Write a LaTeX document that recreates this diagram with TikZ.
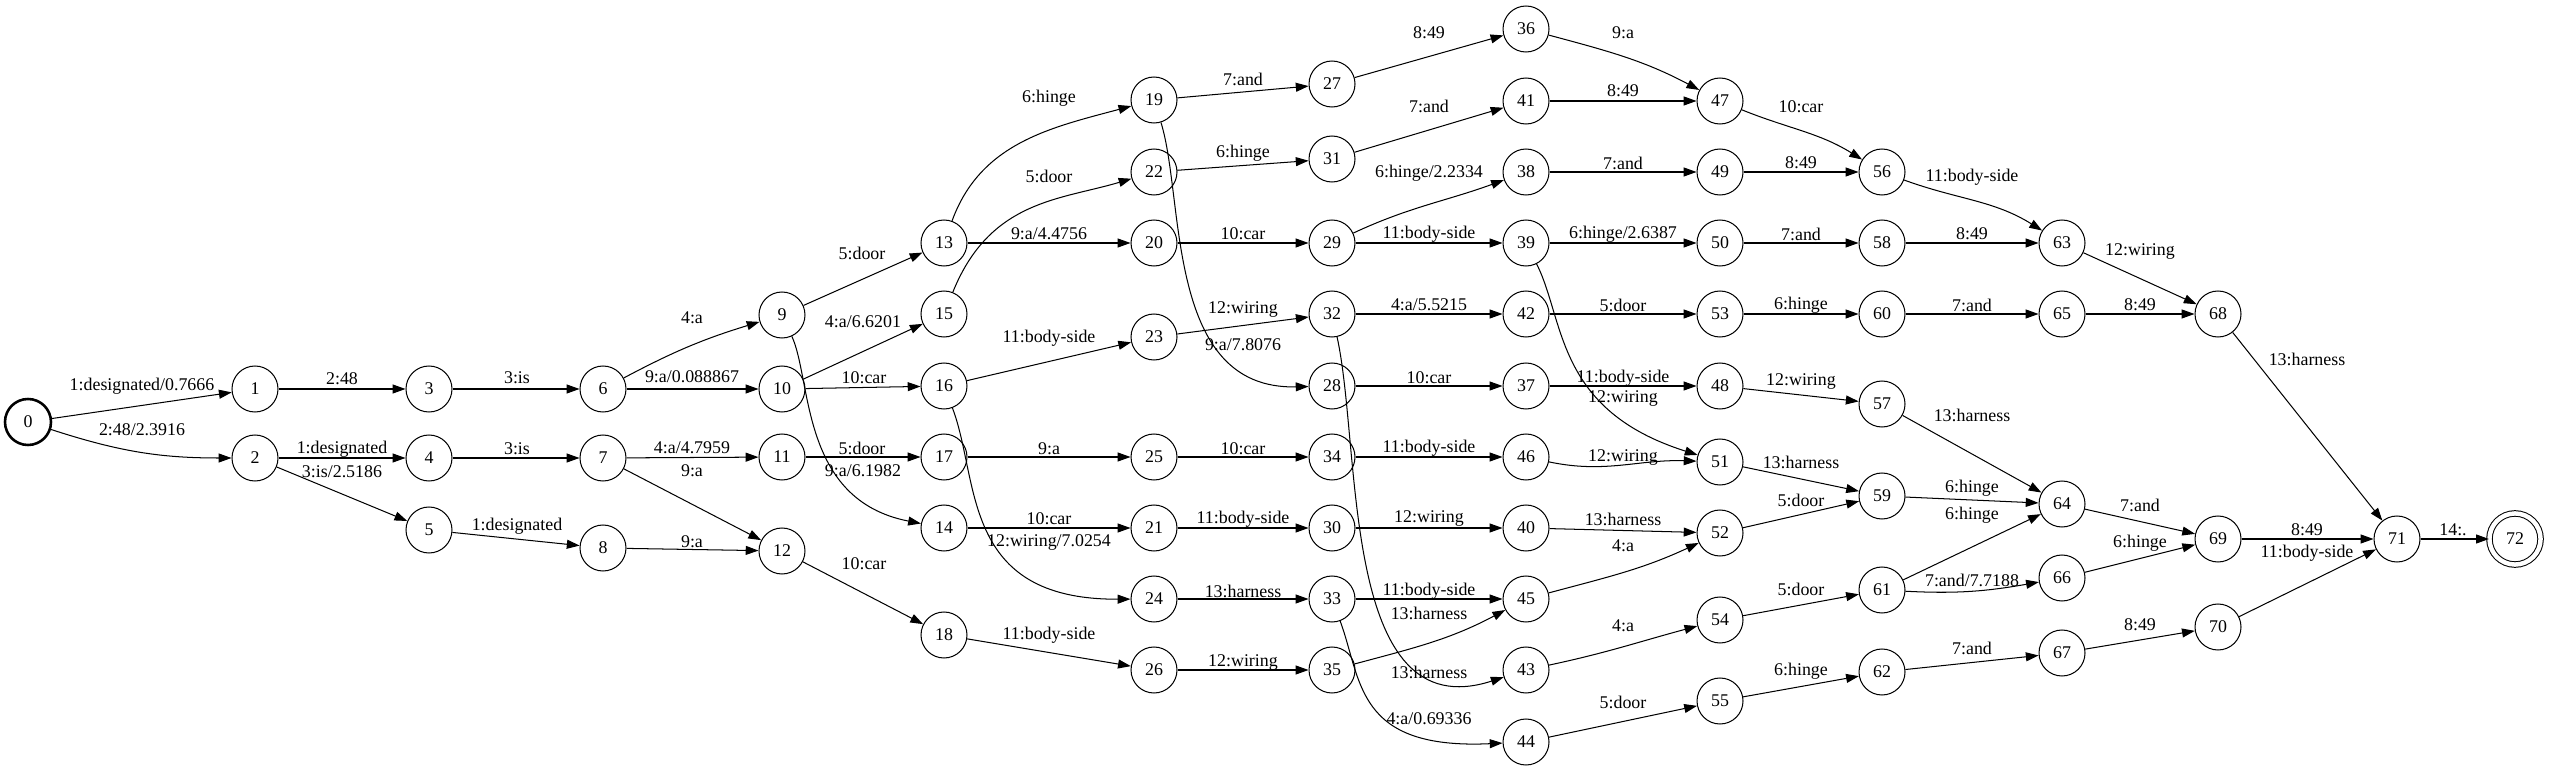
\documentclass[tikz,border=0pt]{standalone}
\usepackage{fontspec}
\setmainfont{Liberation Serif}
\usetikzlibrary{arrows.meta}
\newcommand{\fstfont}{\fontsize{14}{16}\selectfont}
\tikzset{
  state/.style={circle, draw, minimum size=36pt, inner sep=0pt, font=\fstfont},
  final/.style={state, minimum size=40pt, double, double distance=3.5pt},
  lbl/.style={font=\fstfont, inner sep=0pt}
}
\begin{document}
\begin{tikzpicture}[x=0.7826pt,y=-0.7826pt,>={Triangle[length=10pt,width=7pt]},->,line width=0.8pt]
\useasboundingbox (0,0) rectangle (2550,771);
% states
\node[state, line width=2pt] (s0) at (28,422) {0};
\node[state] (s1) at (255,389) {1};
\node[state] (s2) at (255,458) {2};
\node[state] (s3) at (429,389) {3};
\node[state] (s4) at (429,458) {4};
\node[state] (s5) at (429,530) {5};
\node[state] (s6) at (603,389) {6};
\node[state] (s7) at (603,458) {7};
\node[state] (s8) at (603,548) {8};
\node[state] (s9) at (782,315) {9};
\node[state] (s10) at (782,389) {10};
\node[state] (s11) at (782,457) {11};
\node[state] (s12) at (782,551) {12};
\node[state] (s13) at (944,243) {13};
\node[state] (s15) at (944,314) {15};
\node[state] (s16) at (944,386) {16};
\node[state] (s17) at (944,457) {17};
\node[state] (s14) at (944,528) {14};
\node[state] (s18) at (944,635) {18};
\node[state] (s19) at (1154,100) {19};
\node[state] (s22) at (1154,172) {22};
\node[state] (s20) at (1154,243) {20};
\node[state] (s23) at (1154,337) {23};
\node[state] (s25) at (1154,457) {25};
\node[state] (s21) at (1154,528) {21};
\node[state] (s24) at (1154,599) {24};
\node[state] (s26) at (1154,670) {26};
\node[state] (s27) at (1332,84) {27};
\node[state] (s31) at (1332,159) {31};
\node[state] (s29) at (1332,243) {29};
\node[state] (s32) at (1332,314) {32};
\node[state] (s28) at (1332,386) {28};
\node[state] (s34) at (1332,457) {34};
\node[state] (s30) at (1332,528) {30};
\node[state] (s33) at (1332,599) {33};
\node[state] (s35) at (1332,670) {35};
\node[state] (s36) at (1526,29) {36};
\node[state] (s41) at (1526,101) {41};
\node[state] (s38) at (1526,172) {38};
\node[state] (s39) at (1526,243) {39};
\node[state] (s42) at (1526,314) {42};
\node[state] (s37) at (1526,386) {37};
\node[state] (s46) at (1526,457) {46};
\node[state] (s40) at (1526,528) {40};
\node[state] (s45) at (1526,599) {45};
\node[state] (s43) at (1526,670) {43};
\node[state] (s44) at (1526,742) {44};
\node[state] (s47) at (1720,101) {47};
\node[state] (s49) at (1720,172) {49};
\node[state] (s50) at (1720,243) {50};
\node[state] (s53) at (1720,314) {53};
\node[state] (s48) at (1720,386) {48};
\node[state] (s51) at (1720,462) {51};
\node[state] (s52) at (1720,533) {52};
\node[state] (s54) at (1720,620) {54};
\node[state] (s55) at (1720,701) {55};
\node[state] (s56) at (1882,172) {56};
\node[state] (s58) at (1882,243) {58};
\node[state] (s60) at (1882,314) {60};
\node[state] (s57) at (1882,404) {57};
\node[state] (s59) at (1882,496) {59};
\node[state] (s61) at (1882,590) {61};
\node[state] (s62) at (1882,672) {62};
\node[state] (s63) at (2062,243) {63};
\node[state] (s65) at (2062,314) {65};
\node[state] (s64) at (2062,504) {64};
\node[state] (s66) at (2062,578) {66};
\node[state] (s67) at (2062,653) {67};
\node[state] (s68) at (2218,314) {68};
\node[state] (s69) at (2218,539) {69};
\node[state] (s70) at (2218,627) {70};
\node[state] (s71) at (2397,539) {71};
\node[final] (s72) at (2515,539) {72};
% arcs and their labels
\draw (s0) -- (s1); \node[lbl] (l0_1) at (142,386) {1:designated/0.7666};
\draw (s0) to[out=-18,in=180] (s2); \node[lbl] (l0_2) at (142,430) {2:48/2.3916};
\draw (s1) -- (s3); \node[lbl] (l1_3) at (342,379) {2:48};
\draw (s2) -- (s4); \node[lbl] (l2_4) at (342,449) {1:designated};
\draw (s2) -- (s5); \node[lbl] (l2_5) at (342,472) {3:is/2.5186};
\draw (s3) -- (s6); \node[lbl] (l3_6) at (517,378) {3:is};
\draw (s4) -- (s7); \node[lbl] (l4_7) at (517,449) {3:is};
\draw (s5) -- (s8); \node[lbl] (l5_8) at (517,526) {1:designated};
\draw (s6) to[out=28,in=197] (s9); \node[lbl] (l6_9) at (692,318) {4:a};
\draw (s6) -- (s10); \node[lbl] (l6_10) at (692,377) {9:a/0.088867};
\draw (s7) -- (s11); \node[lbl] (l7_11) at (692,448) {4:a/4.7959};
\draw (s7) -- (s12); \node[lbl] (l7_12) at (692,471) {9:a};
\draw (s8) -- (s12); \node[lbl] (l8_12) at (692,542) {9:a};
\draw (s9) -- (s13); \node[lbl] (l9_13) at (862,253) {5:door};
\draw (s9) .. controls (812,380) and (800,500) .. (s14); \node[lbl] (l9_14) at (863,471) {9:a/6.1982};
\draw (s10) -- (s15); \node[lbl] (l10_15) at (863,322) {4:a/6.6201};
\draw (s10) -- (s16); \node[lbl] (l10_16) at (864,378) {10:car};
\draw (s11) -- (s17); \node[lbl] (l11_17) at (862,448) {5:door};
\draw (s12) -- (s18); \node[lbl] (l12_18) at (864,564) {10:car};
\draw (s13) to[out=70,in=195] (s19); \node[lbl] (l13_19) at (1049,98) {6:hinge};
\draw (s13) -- (s20); \node[lbl] (l13_20) at (1049,234) {9:a/4.4756};
\draw (s15) .. controls (990,200) and (1060,200) .. (s22); \node[lbl] (l15_22) at (1049,176) {5:door};
\draw (s16) -- (s23); \node[lbl] (l16_23) at (1049,338) {11:body-side};
\draw (s16) .. controls (980,480) and (960,600) .. (s24); \node[lbl] (l16_24) at (1049,542) {12:wiring/7.0254};
\draw (s17) -- (s25); \node[lbl] (l17_25) at (1049,449) {9:a};
\draw (s14) -- (s21); \node[lbl] (l14_21) at (1049,519) {10:car};
\draw (s18) -- (s26); \node[lbl] (l18_26) at (1049,635) {11:body-side};
\draw (s19) -- (s27); \node[lbl] (l19_27) at (1243,79) {7:and};
\draw (s19) .. controls (1185,200) and (1165,390) .. (s28); \node[lbl] (l19_28) at (1243,345) {9:a/7.8076};
\draw (s22) -- (s31); \node[lbl] (l22_31) at (1243,153) {6:hinge};
\draw (s20) -- (s29); \node[lbl] (l20_29) at (1243,234) {10:car};
\draw (s23) -- (s32); \node[lbl] (l23_32) at (1243,310) {12:wiring};
\draw (s25) -- (s34); \node[lbl] (l25_34) at (1243,449) {10:car};
\draw (s21) -- (s30); \node[lbl] (l21_30) at (1243,519) {11:body-side};
\draw (s24) -- (s33); \node[lbl] (l24_33) at (1243,591) {13:harness};
\draw (s26) -- (s35); \node[lbl] (l26_35) at (1243,663) {12:wiring};
\draw (s27) -- (s36); \node[lbl] (l27_36) at (1429,33) {8:49};
\draw (s31) -- (s41); \node[lbl] (l31_41) at (1429,106) {7:and};
\draw (s29) to[out=25,in=200] (s38); \node[lbl] (l29_38) at (1429,173) {6:hinge/2.2334};
\draw (s29) -- (s39); \node[lbl] (l29_39) at (1429,234) {11:body-side};
\draw (s32) -- (s42); \node[lbl] (l32_42) at (1429,305) {4:a/5.5215};
\draw (s32) .. controls (1362,450) and (1340,730) .. (s43); \node[lbl] (l32_43) at (1429,672) {13:harness};
\draw (s28) -- (s37); \node[lbl] (l28_37) at (1429,378) {10:car};
\draw (s34) -- (s46); \node[lbl] (l34_46) at (1429,448) {11:body-side};
\draw (s30) -- (s40); \node[lbl] (l30_40) at (1429,519) {12:wiring};
\draw (s33) -- (s45); \node[lbl] (l33_45) at (1429,591) {11:body-side};
\draw (s33) .. controls (1362,680) and (1355,750) .. (s44); \node[lbl] (l33_44) at (1429,719) {4:a/0.69336};
\draw (s35) to[out=15,in=208] (s45); \node[lbl] (l35_45) at (1429,613) {13:harness};
\draw (s36) to[out=-15,in=152] (s47); \node[lbl] (l36_47) at (1623,33) {9:a};
\draw (s41) -- (s47); \node[lbl] (l41_47) at (1623,91) {8:49};
\draw (s38) -- (s49); \node[lbl] (l38_49) at (1623,163) {7:and};
\draw (s39) -- (s50); \node[lbl] (l39_50) at (1623,234) {6:hinge/2.6387};
\draw (s39) .. controls (1565,320) and (1555,410) .. (s51); \node[lbl] (l39_51) at (1623,399) {12:wiring};
\draw (s42) -- (s53); \node[lbl] (l42_53) at (1623,305) {5:door};
\draw (s37) -- (s48); \node[lbl] (l37_48) at (1623,378) {11:body-side};
\draw (s46) to[out=-12,in=178] (s51); \node[lbl] (l46_51) at (1623,458) {12:wiring};
\draw (s40) -- (s52); \node[lbl] (l40_52) at (1623,519) {13:harness};
\draw (s45) to[out=15,in=205] (s52); \node[lbl] (l45_52) at (1623,546) {4:a};
\draw (s43) to[out=12,in=195] (s54); \node[lbl] (l43_54) at (1623,626) {4:a};
\draw (s44) -- (s55); \node[lbl] (l44_55) at (1623,702) {5:door};
\draw (s47) to[out=-22,in=148] (s56); \node[lbl] (l47_56) at (1801,107) {10:car};
\draw (s49) -- (s56); \node[lbl] (l49_56) at (1801,163) {8:49};
\draw (s50) -- (s58); \node[lbl] (l50_58) at (1801,234) {7:and};
\draw (s53) -- (s60); \node[lbl] (l53_60) at (1801,305) {6:hinge};
\draw (s48) -- (s57); \node[lbl] (l48_57) at (1801,382) {12:wiring};
\draw (s51) -- (s59); \node[lbl] (l51_59) at (1801,462) {13:harness};
\draw (s52) -- (s59); \node[lbl] (l52_59) at (1801,500) {5:door};
\draw (s54) -- (s61); \node[lbl] (l54_61) at (1801,589) {5:door};
\draw (s55) -- (s62); \node[lbl] (l55_62) at (1801,671) {6:hinge};
\draw (s56) to[out=-20,in=148] (s63); \node[lbl] (l56_63) at (1972,177) {11:body-side};
\draw (s58) -- (s63); \node[lbl] (l58_63) at (1972,234) {8:49};
\draw (s60) -- (s65); \node[lbl] (l60_65) at (1972,305) {7:and};
\draw (s57) -- (s64); \node[lbl] (l57_64) at (1972,415) {13:harness};
\draw (s59) -- (s64); \node[lbl] (l59_64) at (1972,488) {6:hinge};
\draw (s61) -- (s64); \node[lbl] (l61_64) at (1972,515) {6:hinge};
\draw (s61) to[out=-3,in=190] (s66); \node[lbl] (l61_66) at (1972,580) {7:and/7.7188};
\draw (s62) -- (s67); \node[lbl] (l62_67) at (1972,648) {7:and};
\draw (s63) -- (s68); \node[lbl] (l63_68) at (2140,252) {12:wiring};
\draw (s65) -- (s68); \node[lbl] (l65_68) at (2140,305) {8:49};
\draw (s64) -- (s69); \node[lbl] (l64_69) at (2140,505) {7:and};
\draw (s66) -- (s69); \node[lbl] (l66_69) at (2140,543) {6:hinge};
\draw (s67) -- (s70); \node[lbl] (l67_70) at (2140,625) {8:49};
\draw (s68) -- (s71); \node[lbl] (l68_71) at (2307,359) {13:harness};
\draw (s69) -- (s71); \node[lbl] (l69_71) at (2307,530) {8:49};
\draw (s70) -- (s71); \node[lbl] (l70_71) at (2307,553) {11:body-side};
\draw (s71) -- (s72); \node[lbl] (l71_72) at (2453,530) {14:.};
\end{tikzpicture}
\end{document}
